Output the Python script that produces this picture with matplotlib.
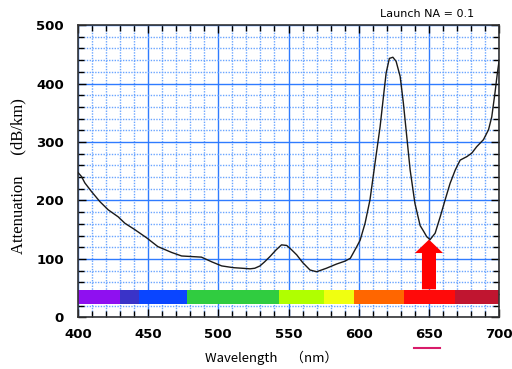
import matplotlib.pyplot as plt
from matplotlib.ticker import MultipleLocator

# attenuation curve
wavelength = [400, 402.6, 405, 409.8, 415.7, 421.6, 428.7, 433.5, 440.6, 449,
              457, 466.8, 473.9, 481, 488, 495.3, 502.4, 510.7, 517, 522.6,
              526, 529.7, 533, 536.8, 541, 545, 548.7, 552, 555.8, 560,
              565.3, 570, 577, 584, 590, 594, 598.6, 601, 604.5, 608,
              611.6, 615.2, 617.6, 619.5, 621.8, 624.3, 626.6, 629.5, 631.8, 634.2,
              636.6, 640, 643.7, 646, 648.4, 650.8, 654.4, 658, 661.5, 665,
              668.7, 672.2, 677, 680.5, 684, 688.8, 692.4, 694.7, 697, 698.7,
              700]
attenuation = [248, 241, 230, 215, 198, 184, 172, 161, 150, 136,
               121, 111, 105, 104, 103, 95, 88, 85, 84, 83,
               84, 88, 95, 104, 115, 124, 123, 116, 107, 94,
               81, 78, 84, 91, 96, 101, 121, 132, 161, 201,
               264, 326, 378, 418, 443, 445, 438, 412, 366, 309,
               252, 195, 157, 148, 138, 133, 144, 172, 201, 229,
               252, 269, 275, 281, 292, 304, 321, 343, 384, 418,
               440]

# visible spectrum band
band_edges = [400, 430, 443.5, 477.5, 543.5, 575, 596.5, 632, 668.5, 700]
band_colors = ['#8f10f0', '#3a33c8', '#0a45ff', '#30cc40', '#b0ff00',
               '#f0ff10', '#ff6600', '#ff0a0a', '#c01530']
band_bottom, band_top = 22, 46

arrow_x, arrow_from, arrow_to = 650, 48, 133
highlight = (639.5, 658)

fig = plt.figure(figsize=(5.12, 3.69), dpi=100)
ax = fig.add_axes([0.152, 0.140, 0.823, 0.792])

ax.set_xlim(400, 700)
ax.set_ylim(0, 500)
ax.xaxis.set_major_locator(MultipleLocator(50))
ax.xaxis.set_minor_locator(MultipleLocator(10))
ax.yaxis.set_major_locator(MultipleLocator(100))
ax.yaxis.set_minor_locator(MultipleLocator(20))

ax.grid(which='minor', color='#6aa5ff', linestyle=(0, (1, 1)), lw=1.0, zorder=0)
ax.grid(which='major', color='#2f7bff', linestyle='-', lw=1.0, zorder=0)
ax.set_axisbelow(True)

ax.tick_params(which='both', direction='in', top=True, right=True, color='black')
ax.tick_params(which='major', length=6, width=1)
ax.tick_params(which='minor', length=4, width=1)
for lab in ax.get_xticklabels() + ax.get_yticklabels():
    lab.set_fontweight('bold')
    lab.set_fontsize(9.5)
ax.tick_params(axis='x', pad=8)
ax.tick_params(axis='y', pad=10)

lefts = band_edges[:-1]
widths = [b - a for a, b in zip(band_edges[:-1], band_edges[1:])]
ax.bar(lefts, band_top - band_bottom, width=widths, bottom=band_bottom,
       align='edge', color=band_colors, linewidth=0, zorder=2)

ax.plot(wavelength, attenuation, color='#1a1a1a', lw=1.0, zorder=3)

ax.arrow(arrow_x, arrow_from, 0, arrow_to - arrow_from, width=10,
         head_width=20, head_length=23, length_includes_head=True,
         color='#ff0000', linewidth=0, zorder=4)

for side in ax.spines.values():
    side.set_color('#333333')
    side.set_linewidth(1.2)

ax.plot(highlight, [-0.104, -0.104], transform=ax.get_xaxis_transform(),
        color='#d81b6a', lw=1.5, clip_on=False)

fig.text(0.53, 0.03, 'Wavelength\u3000（nm）', ha='center', va='center',
         fontsize=9.5, family=['Noto Sans CJK JP', 'DejaVu Sans'])
fig.text(0.035, 0.523, 'Attenuation\u2003 (dB/km)', ha='center', va='center',
         rotation=90, fontsize=12, family='Liberation Serif')
fig.text(0.927, 0.962, 'Launch NA = 0.1', ha='right', va='center',
         fontsize=8, family='DejaVu Sans')

fig.savefig('out.png', dpi=100)
